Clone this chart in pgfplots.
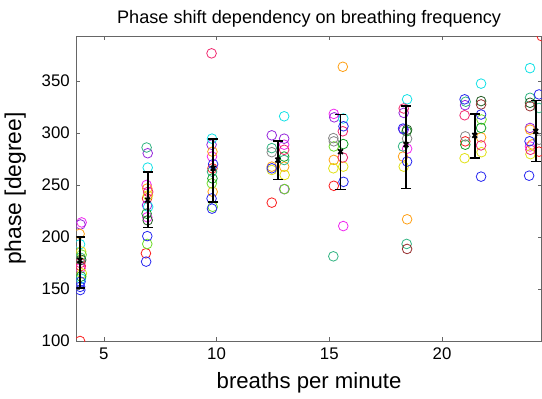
\documentclass[border=0pt]{standalone}
\usepackage{pgfplots}
\pgfplotsset{compat=1.18}
\usepackage{fontspec}
\setmainfont{Liberation Sans}
\definecolor{cRed}{RGB}{250,30,30}
\definecolor{cOrange}{RGB}{255,160,20}
\definecolor{cYellow}{RGB}{225,225,20}
\definecolor{cLime}{RGB}{110,220,40}
\definecolor{cGreen}{RGB}{20,160,40}
\definecolor{cSea}{RGB}{50,180,130}
\definecolor{cCyan}{RGB}{20,225,230}
\definecolor{cBlue}{RGB}{40,40,240}
\definecolor{cPurple}{RGB}{150,40,220}
\definecolor{cMagenta}{RGB}{240,40,240}
\definecolor{cCrimson}{RGB}{240,40,110}
\definecolor{cGray}{RGB}{135,135,135}
\definecolor{cDkGreen}{RGB}{40,95,40}
\definecolor{cBrown}{RGB}{150,45,45}
\begin{document}
\begin{tikzpicture}
\begin{axis}[
  scale only axis,
  width=346.5pt, height=227pt,
  xmin=3.79, xmax=24.42, ymin=100, ymax=393,
  xtick={5,10,15,20}, ytick={100,150,...,350},
  tick align=inside, major tick length=3pt,
  axis line style={black!60},
  tick style={black!60},
  clip marker paths=true,
  /pgf/number format/assume math mode=true,
  tick label style={font=\fontsize{12.5}{14}\selectfont},
  yticklabel style={xshift=-1.5pt},
  xticklabel style={yshift=-1.5pt},
  title={Phase shift dependency on breathing frequency},
  title style={font=\fontsize{13.5}{15}\selectfont, yshift=-3pt},
  xlabel={breaths per minute},
  ylabel={phase [degree]},
  xlabel style={font=\fontsize{16.5}{18}\selectfont, inner ysep=4pt},
  xlabel shift=2pt,
  ylabel style={font=\fontsize{17}{19}\selectfont},
  ylabel shift=5pt,
  every axis plot/.append style={only marks, mark=o, mark size=3.6pt, line width=0.6pt},
]
\addplot[cRed] coordinates {(3.95,100) (3.98,172) (6.92,237) (6.87,184.3) (9.82,266) (12.45,233) (15.2,249.2) (21.03,291.9) (24.42,393) (24.3,282)};
\addplot[cMagenta] coordinates {(4.02,214) (3.97,170) (6.9,250) (6.93,219) (9.8,277.3) (13.0,288.7) (15.2,318.3) (15.62,210.5) (18.45,284.8) (23.9,287)};
\addplot[cPurple] coordinates {(3.97,212) (6.95,280.5) (6.92,230.5) (9.78,288.7) (12.45,297.7) (13.0,294.5) (13.0,246) (15.22,315) (18.3,319.3) (18.3,303.2) (21.02,326.7) (23.9,304.8)};
\addplot[cOrange] coordinates {(3.93,203) (6.93,246.6) (9.82,282) (9.83,243.4) (12.45,267.6) (13.0,267.6) (15.6,363.6) (15.2,274.1) (18.27,277.3) (18.45,217) (21.73,295.7) (23.9,303.2) (24.0,289)};
\addplot[cCyan] coordinates {(3.95,193) (3.99,160) (6.95,266.7) (6.97,229) (9.8,294.5) (13.0,316) (15.62,313.9) (18.45,332.3) (21.73,347.4) (23.9,362.3)};
\addplot[cYellow] coordinates {(4.0,186) (4.03,165) (6.96,240) (12.45,264.4) (13.02,259.6) (15.62,267.6) (15.18,266) (18.3,267.6) (21.75,281.5) (21.0,275.7) (23.92,279.6)};
\addplot[cLime] coordinates {(4.02,183) (6.93,193.3) (9.79,251.5) (9.83,229) (13.02,246) (15.2,287) (21.75,312.9)};
\addplot[cGreen] coordinates {(4.0,162) (6.9,222.4) (9.82,256.3) (13.0,277.3) (15.62,289.3) (18.43,301.6) (21.73,304.8) (21.03,288.7)};
\addplot[cSea] coordinates {(3.97,180) (6.9,286) (9.8,262.8) (12.45,285.4) (13.0,274) (15.18,181.4) (18.27,287) (18.43,193.3) (21.05,330) (23.9,333.8) (24.3,324)};
\addplot[cDkGreen] coordinates {(4.0,178) (6.95,216) (18.45,303) (21.73,330.6) (23.9,329)};
\addplot[cCrimson] coordinates {(3.96,175) (6.97,243.4) (9.78,376.5) (13.0,283.8) (15.6,301.6) (15.6,276.4) (18.3,323.5) (21.0,317) (21.73,288) (23.92,283.8)};
\addplot[cGray] coordinates {(12.45,281.5) (15.18,295) (15.2,291.9) (18.45,294.5) (21.03,296.7) (24.3,293.5)};
\addplot[cBrown] coordinates {(18.45,188.5) (21.73,327.4) (23.9,325.7)};
\addplot[cBlue] coordinates {(3.97,157) (3.95,152) (3.96,149) (6.93,200.8) (6.88,176.3) (9.85,270) (9.78,237) (9.8,227.2) (12.45,266) (15.63,306.4) (15.63,253) (18.27,304.2) (18.45,272.5) (21.0,332.3) (21.73,317.7) (21.73,258) (24.3,337) (23.88,292) (23.86,258.9)};
\addplot[black, line width=1.3pt, mark=x, mark size=2.5pt,
  error bars/.cd, y dir=both, y explicit,
  error bar style={line width=1.3pt},
  error mark options={rotate=90, mark size=3.8pt, line width=1.3pt}]
  coordinates {
  (3.95,177.5) += (0,22.5) -= (0,26.5)
  (6.95,235.5) += (0,27) -= (0,26.5)
  (9.85,266) += (0,28.5) -= (0,32.3)
  (12.72,274) += (0,18.5) -= (0,18.7)
  (15.5,282) += (0,35.7) -= (0,36.4)
  (18.4,288.7) += (0,37.1) -= (0,42.1)
  (21.45,297.7) += (0,20.6) -= (0,22)
  (24.15,301.5) += (0,29.8) -= (0,29)
  };
\end{axis}
\path (current bounding box.north) ++(0,4.5pt);
\end{tikzpicture}
\end{document}
